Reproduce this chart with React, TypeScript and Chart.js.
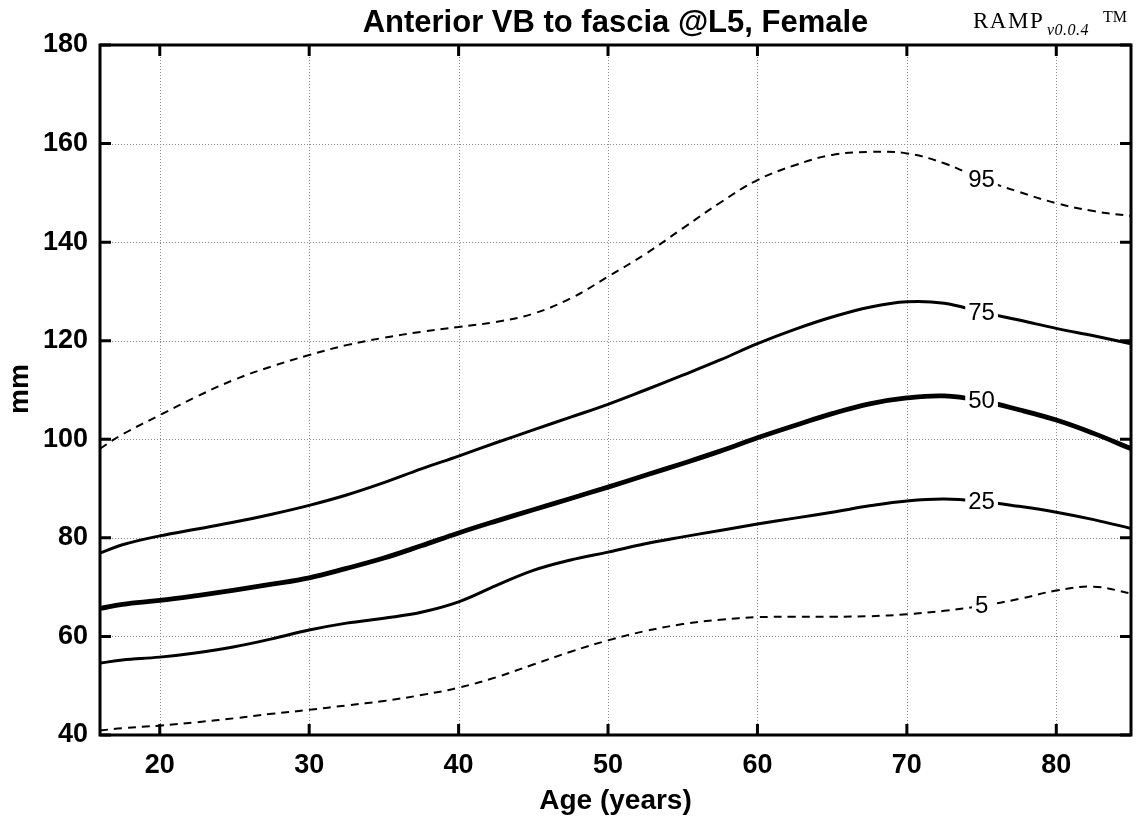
import React, { useEffect, useRef } from "react";
import { Chart, registerables } from "chart.js";

Chart.register(...registerables);

// ---- data ----
const ages = [16, 17.5, 20, 22.5, 25, 27.5, 30, 32.5, 35, 37.5, 40, 42.5, 45, 47.5, 50, 52.5, 55, 57.5, 60, 62.5, 65, 67.5, 70, 72.5, 75, 77.5, 80, 82.5, 85];
const p95 = [98.1, 101.0, 104.9, 108.7, 112.1, 114.8, 117.1, 119.1, 120.6, 121.8, 122.8, 123.8, 125.5, 128.6, 133.0, 137.6, 142.8, 148.0, 152.6, 155.6, 157.7, 158.3, 158.0, 156.0, 152.8, 150.2, 147.9, 146.3, 145.3];
const p75 = [76.9, 78.6, 80.4, 81.8, 83.2, 84.8, 86.6, 88.7, 91.2, 94.0, 96.6, 99.3, 101.9, 104.5, 107.1, 110.0, 113.0, 116.1, 119.4, 122.3, 124.8, 126.8, 127.9, 127.6, 125.8, 124.2, 122.5, 121.0, 119.4];
const p50 = [65.7, 66.5, 67.3, 68.3, 69.4, 70.6, 71.9, 73.8, 75.9, 78.4, 81.0, 83.4, 85.7, 88.0, 90.3, 92.7, 95.1, 97.6, 100.3, 102.8, 105.2, 107.2, 108.4, 108.8, 107.8, 106.0, 103.9, 101.2, 98.1];
const p25 = [54.6, 55.2, 55.8, 56.7, 57.9, 59.5, 61.3, 62.7, 63.7, 64.9, 67.0, 70.3, 73.4, 75.5, 77.1, 78.8, 80.2, 81.5, 82.8, 84.0, 85.2, 86.5, 87.5, 87.9, 87.4, 86.4, 85.2, 83.7, 81.9];
const p5 = [40.9, 41.4, 41.9, 42.6, 43.4, 44.3, 45.1, 46.0, 46.9, 48.1, 49.6, 51.7, 54.3, 56.9, 59.2, 61.1, 62.5, 63.4, 63.9, 64.0, 64.0, 64.1, 64.5, 65.2, 66.2, 67.6, 69.3, 70.1, 68.7];

const seriesNames = ["95", "75", "50", "25", "5"];
const xTicks = [20, 30, 40, 50, 60, 70, 80];
const yTicks = [40, 60, 80, 100, 120, 140, 160, 180];
const labelAge = 75;
const titleText = "Anterior VB to fascia @L5, Female";
const xTitle = "Age (years)";
const yTitle = "mm";

const SANS = '"Liberation Sans", Arial, Helvetica, sans-serif';
const SERIF = '"Liberation Serif", "Times New Roman", serif';

const decorPlugin = {
  id: "decor",
  beforeDatasetsDraw(chart: any) {
    const { ctx, chartArea, scales } = chart;
    const { left, right, top, bottom } = chartArea;
    ctx.save();
    ctx.strokeStyle = "#8a8a8a";
    ctx.lineWidth = 1;
    ctx.setLineDash([1, 2]);
    xTicks.forEach((v) => {
      const px = Math.round(scales.x.getPixelForValue(v)) + 0.5;
      ctx.beginPath();
      ctx.moveTo(px, top);
      ctx.lineTo(px, bottom);
      ctx.stroke();
    });
    yTicks.forEach((v) => {
      const py = Math.round(scales.y.getPixelForValue(v)) + 0.5;
      ctx.beginPath();
      ctx.moveTo(left, py);
      ctx.lineTo(right, py);
      ctx.stroke();
    });
    ctx.restore();
  },
  afterDatasetsDraw(chart: any) {
    const { ctx, chartArea, scales } = chart;
    const { left, right, top, bottom } = chartArea;
    ctx.save();
    // curve labels
    ctx.font = `24px ${SANS}`;
    ctx.textAlign = "center";
    ctx.textBaseline = "middle";
    chart.data.datasets.forEach((ds: any) => {
      const pt = ds.data.find((d: any) => d.x === labelAge);
      if (!pt) return;
      const px = scales.x.getPixelForValue(pt.x);
      const py = scales.y.getPixelForValue(pt.y);
      const w = ctx.measureText(ds.label).width;
      ctx.fillStyle = "#ffffff";
      ctx.fillRect(px - w / 2 - 3, py - 11, w + 6, 22);
      ctx.fillStyle = "#000000";
      ctx.fillText(ds.label, px, py + 1);
    });
    // frame
    ctx.strokeStyle = "#000000";
    ctx.lineWidth = 3;
    ctx.setLineDash([]);
    ctx.strokeRect(left, top, right - left, bottom - top);
    // inward ticks
    const tl = 11;
    xTicks.forEach((v) => {
      const px = scales.x.getPixelForValue(v);
      ctx.beginPath();
      ctx.moveTo(px, bottom);
      ctx.lineTo(px, bottom - tl);
      ctx.moveTo(px, top);
      ctx.lineTo(px, top + tl);
      ctx.stroke();
    });
    yTicks.forEach((v) => {
      const py = scales.y.getPixelForValue(v);
      ctx.beginPath();
      ctx.moveTo(left, py);
      ctx.lineTo(left + tl, py);
      ctx.moveTo(right, py);
      ctx.lineTo(right - tl, py);
      ctx.stroke();
    });
    ctx.restore();
  },
  afterDraw(chart: any) {
    const { ctx, chartArea } = chart;
    const { left, right, top, bottom } = chartArea;
    const cx = (left + right) / 2;
    ctx.save();
    ctx.fillStyle = "#000000";
    // title
    ctx.font = `bold 31px ${SANS}`;
    ctx.textAlign = "center";
    ctx.textBaseline = "alphabetic";
    ctx.fillText(titleText, cx, 32);
    // x title
    ctx.font = `bold 28px ${SANS}`;
    ctx.fillText(xTitle, cx, 809);
    // y title
    ctx.save();
    ctx.translate(28, (top + bottom) / 2 - 1);
    ctx.rotate(-Math.PI / 2);
    ctx.fillText(yTitle, 0, 0);
    ctx.restore();
    // RAMP mark
    ctx.textAlign = "left";
    (ctx as any).letterSpacing = "1.5px";
    ctx.font = `23px ${SERIF}`;
    ctx.fillText("RAMP", 973, 28);
    (ctx as any).letterSpacing = "0.5px";
    ctx.font = `italic 16px ${SERIF}`;
    ctx.fillText("v0.0.4", 1047, 35);
    (ctx as any).letterSpacing = "0px";
    ctx.font = `16px ${SERIF}`;
    ctx.fillText("TM", 1103, 22);
    ctx.restore();
  },
};

export default function App() {
  const canvasRef = useRef<HTMLCanvasElement | null>(null);

  useEffect(() => {
    const canvas = canvasRef.current;
    if (!canvas) return;
    const allSeries = [p95, p75, p50, p25, p5];
    const widths = [2, 3, 4.8, 3, 2];
    const dashes = [[8, 6], [], [], [], [8, 6]];
    const datasets = allSeries.map((vals, i) => ({
      label: seriesNames[i],
      data: ages.map((a, j) => ({ x: a, y: vals[j] })),
      borderColor: "#000000",
      borderWidth: widths[i],
      borderDash: dashes[i],
      pointRadius: 0,
      fill: false,
      tension: 0.4,
    }));

    const chart = new Chart(canvas, {
      type: "line",
      data: { datasets },
      options: {
        animation: false,
        responsive: false,
        maintainAspectRatio: false,
        layout: { padding: { top: 45, right: 5, bottom: 0, left: 0 } },
        plugins: {
          legend: { display: false },
          tooltip: { enabled: false },
          title: { display: false },
        },
        scales: {
          x: {
            type: "linear",
            min: 16,
            max: 85,
            afterBuildTicks: (s: any) => {
              s.ticks = xTicks.map((v) => ({ value: v }));
            },
            afterFit: (s: any) => {
              s.height = 87;
            },
            grid: { display: false, drawTicks: false },
            border: { display: false },
            ticks: {
              padding: 14,
              maxRotation: 0,
              color: "#000000",
              font: { family: SANS, size: 27, weight: "bold" },
            },
          },
          y: {
            type: "linear",
            min: 40,
            max: 180,
            afterBuildTicks: (s: any) => {
              s.ticks = yTicks.map((v) => ({ value: v }));
            },
            afterFit: (s: any) => {
              s.width = 100;
            },
            grid: { display: false, drawTicks: false },
            border: { display: false },
            ticks: {
              padding: 12,
              color: "#000000",
              font: { family: SANS, size: 27, weight: "bold" },
            },
          },
        },
      },
      plugins: [decorPlugin],
    });
    return () => chart.destroy();
  }, []);

  return (
    <div style={{ position: "absolute", left: 0, top: 0, width: 1136, height: 822, background: "#ffffff" }}>
      <canvas ref={canvasRef} width={1136} height={822} style={{ display: "block" }} />
    </div>
  );
}
